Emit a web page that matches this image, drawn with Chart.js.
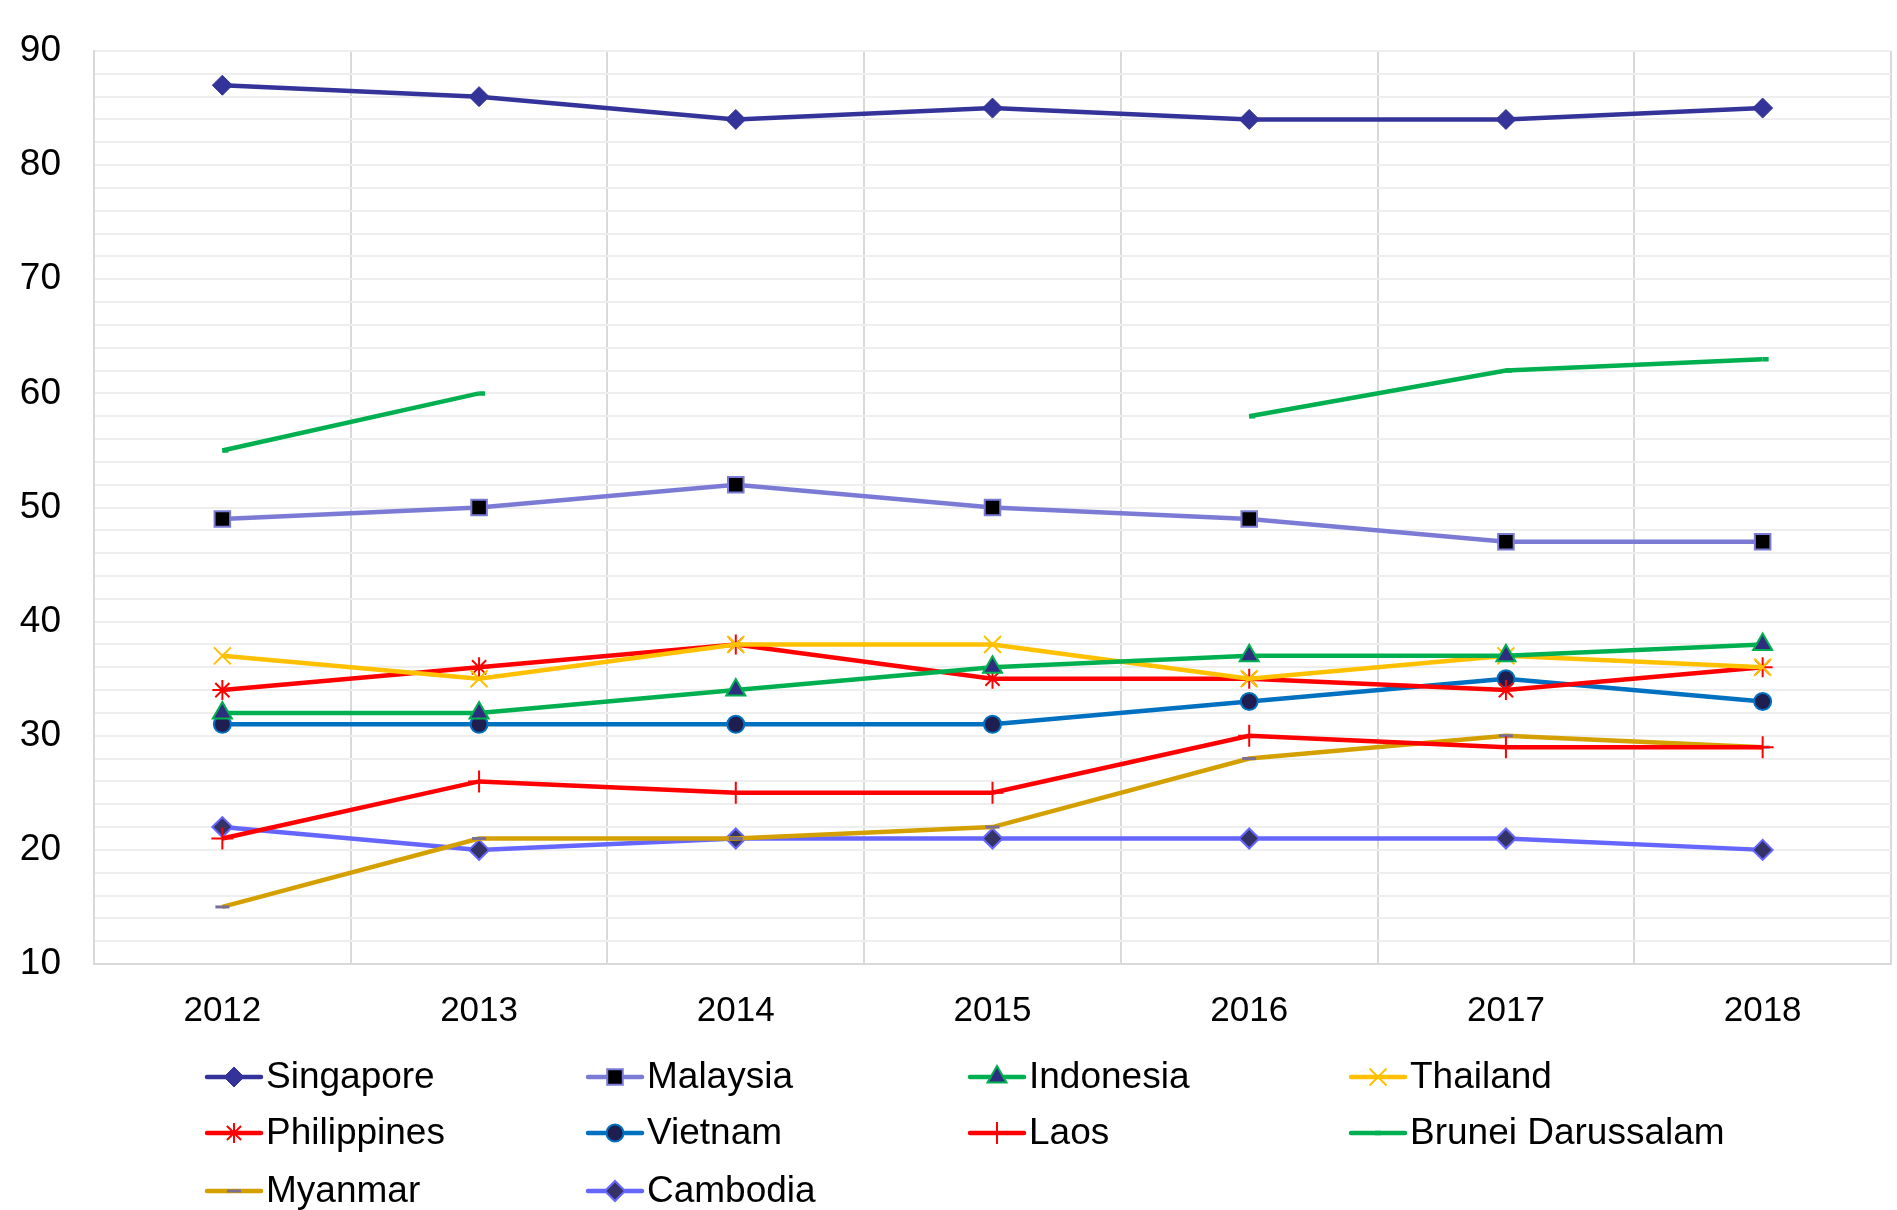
<!DOCTYPE html>
<html lang="en">

<head>
    <meta charset="UTF-8">
    <title>ASEAN Index 2012-2018</title>
    <script src="https://cdn.jsdelivr.net/npm/chart.js"></script>
    <style>
        body { margin: 0; background: #fff; overflow: hidden; }
        .chart-box { width: 1897px; height: 1210px; }
    </style>
</head>

<body>
    <div class="chart-box">
        <canvas id="aseanChart"></canvas>
    </div>

    <script>
        // data
        const years = ['2012', '2013', '2014', '2015', '2016', '2017', '2018'];
        const singapore = [87, 86, 84, 85, 84, 84, 85];
        const malaysia = [49, 50, 52, 50, 49, 47, 47];
        const indonesia = [32, 32, 34, 36, 37, 37, 38];
        const thailand = [37, 35, 38, 38, 35, 37, 36];
        const philippines = [34, 36, 38, 35, 35, 34, 36];
        const vietnam = [31, 31, 31, 31, 33, 35, 33];
        const laos = [21, 26, 25, 25, 30, 29, 29];
        const brunei = [55, 60, null, null, 58, 62, 63];
        const myanmar = [15, 21, 21, 22, 28, 30, 29];
        const cambodia = [22, 20, 21, 21, 21, 21, 20];

        const yMin = 10;
        const yMax = 90;

        Chart.defaults.font.family = "'Liberation Sans', Arial, sans-serif";
        Chart.defaults.color = '#000';

        function series(label, data, color, width, style, radius, fill, border, borderW) {
            return {
                label: label,
                data: data,
                borderColor: color,
                backgroundColor: color,
                borderWidth: width,
                pointStyle: style,
                pointRadius: radius,
                pointHoverRadius: radius,
                pointBackgroundColor: fill,
                pointBorderColor: border,
                pointBorderWidth: borderW,
                tension: 0,
                spanGaps: false
            };
        }

        const datasets = [
            series('Singapore', singapore, '#333399', 4.5, 'rectRot', 10, '#333399', '#333399', 1),
            series('Malaysia', malaysia, '#7b7bd6', 4.5, 'rect', 11, '#000000', '#7b7bd6', 2),
            series('Indonesia', indonesia, '#00b050', 4.5, 'triangle', 11, '#2e2e80', '#00b050', 2),
            series('Thailand', thailand, '#ffc000', 4.5, 'crossRot', 12, '#ffc000', '#ffc000', 2),
            series('Philippines', philippines, '#ff0000', 4.5, 'star', 10, '#ff0000', '#ff0000', 2),
            series('Vietnam', vietnam, '#0070c0', 4.5, 'circle', 8.5, '#1e1e50', '#0070c0', 2),
            series('Laos', laos, '#ff0000', 4.5, 'cross', 11, '#ff0000', '#ff0000', 2),
            series('Brunei Darussalam', brunei, '#00b050', 4.5, 'dash', 6, '#00b050', '#00b050', 4.5),
            series('Myanmar', myanmar, '#d4a000', 4.5, 'line', 7, '#7a6f90', '#7a6f90', 3),
            series('Cambodia', cambodia, '#6666ff', 4.5, 'rectRot', 10, '#333366', '#6666ff', 2)
        ];

        // legend laid out in a 4-column grid under the plot
        const gridLegend = {
            id: 'gridLegend',
            afterDraw(chart) {
                const ctx = chart.ctx;
                const cols = [207, 588, 970, 1351];
                const rows = [1077, 1133, 1191];
                ctx.save();
                chart.data.datasets.forEach((ds, i) => {
                    const x = cols[i % 4];
                    const y = rows[Math.floor(i / 4)];
                    ctx.strokeStyle = ds.borderColor;
                    ctx.lineWidth = 4.5;
                    ctx.lineCap = 'round';
                    ctx.beginPath();
                    ctx.moveTo(x, y);
                    ctx.lineTo(x + 54, y);
                    ctx.stroke();
                    ctx.lineCap = 'butt';
                    ctx.fillStyle = ds.pointBackgroundColor;
                    ctx.strokeStyle = ds.pointBorderColor;
                    ctx.lineWidth = ds.pointBorderWidth;
                    Chart.helpers.drawPoint(ctx, {
                        pointStyle: ds.pointStyle,
                        radius: ds.pointRadius,
                        rotation: 0,
                        borderWidth: ds.pointBorderWidth
                    }, ds.pointStyle === 'dash' ? x + 24 : x + 27, y);
                    ctx.fillStyle = '#000';
                    ctx.font = "37px 'Liberation Sans', Arial, sans-serif";
                    ctx.textBaseline = 'middle';
                    ctx.textAlign = 'left';
                    ctx.fillText(ds.label, x + 59, y + 1);
                });
                ctx.restore();
            }
        };

        const ctx1 = document.getElementById('aseanChart').getContext('2d');
        new Chart(ctx1, {
            type: 'line',
            data: { labels: years, datasets: datasets },
            plugins: [gridLegend],
            options: {
                responsive: true,
                maintainAspectRatio: false,
                animation: false,
                layout: { autoPadding: false, padding: { top: 51, right: 6, left: 0, bottom: 171 } },
                plugins: {
                    legend: { display: false },
                    tooltip: { enabled: false }
                },
                scales: {
                    x: {
                        offset: true,
                        grid: { offset: true, color: '#d9d9d9', lineWidth: 2, drawTicks: false },
                        border: { color: '#d9d9d9', width: 2 },
                        ticks: { font: { size: 35 }, padding: 26, color: '#000' },
                        afterFit(scale) {
                            scale.height = 75;
                            scale.paddingLeft = 0;
                            scale.paddingRight = 0;
                        }
                    },
                    y: {
                        min: yMin,
                        max: yMax,
                        grid: { color: '#eeeeee', lineWidth: 2, drawTicks: false },
                        border: { color: '#d9d9d9', width: 2 },
                        ticks: {
                            stepSize: 2,
                            autoSkip: false,
                            padding: 33,
                            font: { size: 37 },
                            color: '#000',
                            callback: v => (v % 10 === 0 ? v : '')
                        },
                        afterFit(scale) {
                            scale.width = 94;
                            scale.paddingTop = 0;
                            scale.paddingBottom = 0;
                        }
                    }
                }
            }
        });
    </script>
</body>

</html>
